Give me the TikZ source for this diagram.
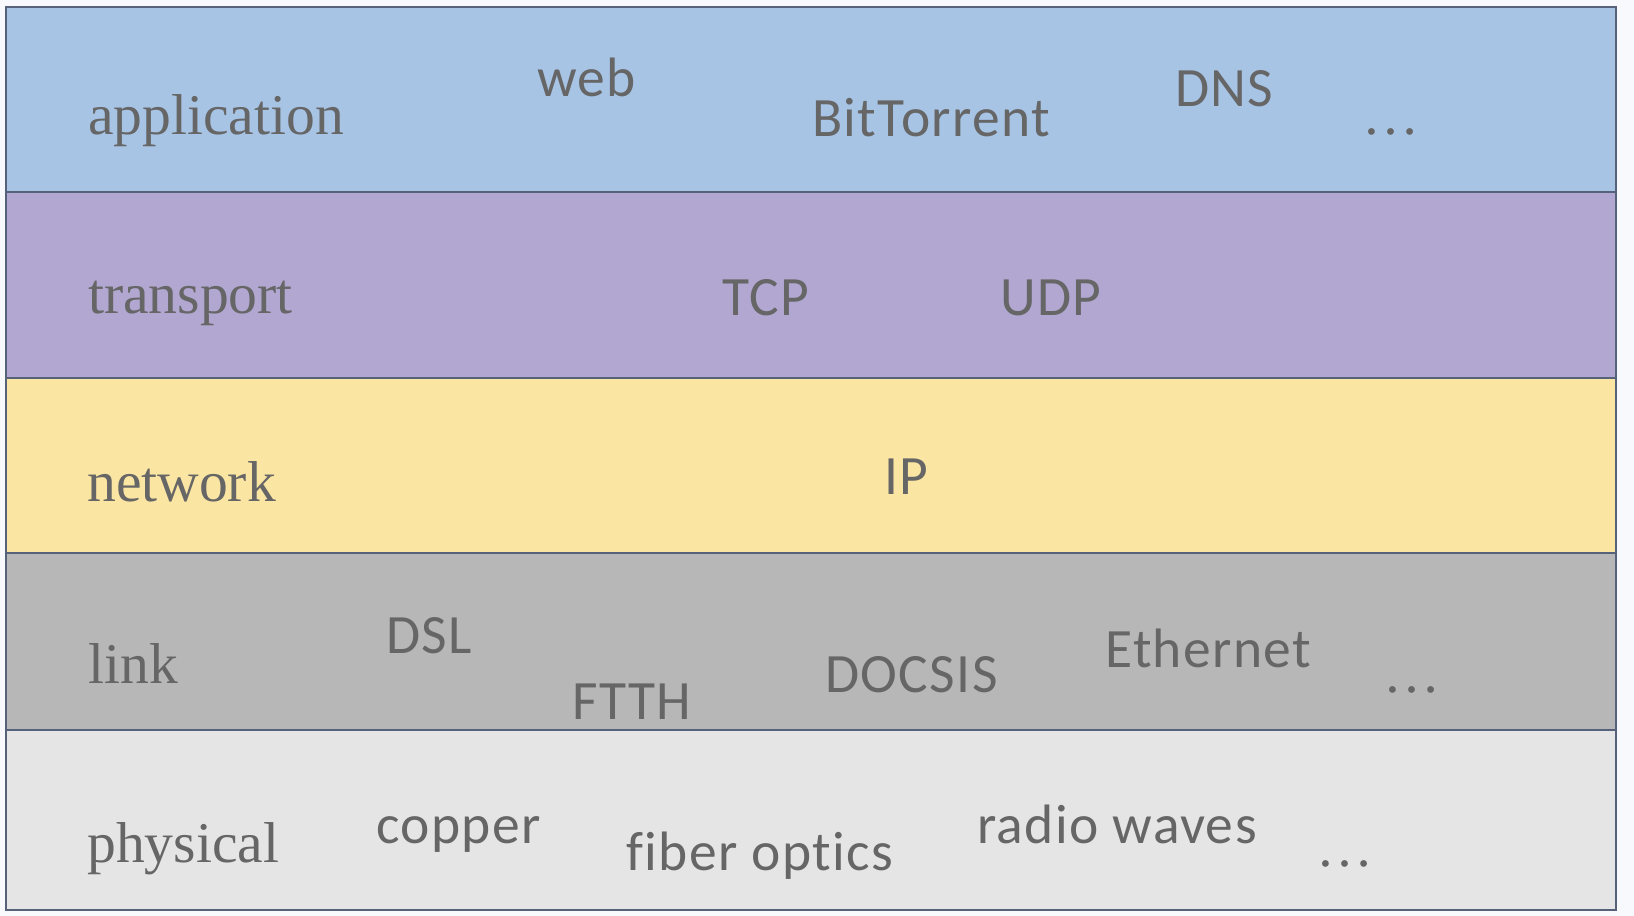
\documentclass[tikz,border=0pt]{standalone}
\usepackage{fontspec}
\setmainfont{Liberation Serif}
\newfontfamily\calib[LetterSpace=2.5,Ligatures=NoCommon]{Carlito}
\definecolor{bgc}{HTML}{F8F9FC}
\definecolor{appc}{HTML}{A7C4E5}
\definecolor{trac}{HTML}{B1A7D1}
\definecolor{netc}{HTML}{FBE5A2}
\definecolor{linc}{HTML}{B7B7B7}
\definecolor{phyc}{HTML}{E5E5E5}
\definecolor{edgec}{HTML}{56627A}
\definecolor{txtc}{HTML}{666666}
\tikzset{
  layerbox/.style={draw=edgec, line width=2pt},
  lname/.style={anchor=base west, inner sep=0pt, text=txtc, font=\fontsize{57.6}{60}\selectfont},
  proto/.style={anchor=base west, inner sep=0pt, text=txtc, font=\calib\fontsize{55.5}{58}\selectfont},
  etc/.style={anchor=base, inner sep=0pt, text=txtc, font=\fontsize{57}{60}\selectfont},
}
\begin{document}
\begin{tikzpicture}[x=1pt,y=-1pt]
\fill[bgc] (0,0) rectangle (1634,916);
\useasboundingbox (0,0) rectangle (1634,916);
% layers
\path[layerbox, fill=appc] (6,7) rectangle (1616,192);
\path[layerbox, fill=trac] (6,192) rectangle (1616,378);
\path[layerbox, fill=netc] (6,378) rectangle (1616,553);
\path[layerbox, fill=linc] (6,553) rectangle (1616,730);
\path[layerbox, fill=phyc] (6,730) rectangle (1616,910);
% application
\node[lname] (application) at (88,134) {application};
\node[proto] (web) at (537,96) {web};
\node[proto] (bittorrent) at (812,136) {BitTorrent};
\node[proto] (dns) at (1175,106) {DNS};
\node[etc] (appdots) at (1391,134) {…};
% transport
\node[lname] (transport) at (88,313) {transport};
\node[proto] (tcp) at (722,315) {TCP};
\node[proto] (udp) at (1000,315) {UDP};
% network
\node[lname] (network) at (87,501) {network};
\node[proto] (ip) at (884,494) {IP};
% link
\node[lname] (link) at (88,683) {link};
\node[proto] (dsl) at (386,653) {DSL};
\node[proto] (ftth) at (572,719) {FTTH};
\node[proto] (docsis) at (825,692) {DOCSIS};
\node[proto] (ethernet) at (1105,667) {Ethernet};
\node[etc] (linkdots) at (1412,692) {…};
% physical
\node[lname] (physical) at (87,862) {physical};
\node[proto] (copper) at (376,843) {copper};
\node[proto] (fiber) at (626,870) {fiber optics};
\node[proto] (radio) at (977,843) {radio waves};
\node[etc] (phydots) at (1345,866) {…};
\end{tikzpicture}
\end{document}
